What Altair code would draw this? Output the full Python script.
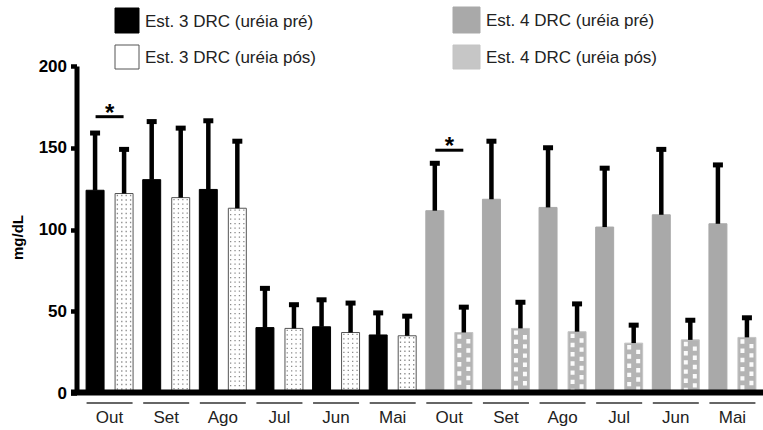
import altair as alt
import pandas as pd

# ---------------- data ----------------
months = ["Out", "Set", "Ago", "Jul", "Jun", "Mai"]
series = ["Est. 3 DRC (uréia pré)", "Est. 3 DRC (uréia pós)",
          "Est. 4 DRC (uréia pré)", "Est. 4 DRC (uréia pós)"]
est3_pre = [124, 130.5, 124.5, 40, 40.5, 35.5]
est3_pre_sd = [35, 35.5, 42, 24, 16.5, 13.5]
est3_pos = [122, 119.5, 113, 39.5, 37, 35]
est3_pos_sd = [27, 42.5, 41, 14.5, 18, 12]
est4_pre = [111.5, 118.5, 113.5, 101.5, 109, 103.5]
est4_pre_sd = [29, 35.5, 36.5, 36, 40, 36]
est4_pos = [37, 39.5, 37.5, 30.5, 32.5, 34]
est4_pos_sd = [15.5, 16, 17, 11, 12, 12]
sig_groups = ["3_Out", "4_Out"]
sig_levels = [169, 148.5]
y_ticks = [0, 50, 100, 150, 200]

# ---------------- tables ----------------
rows = []
for est, pre, pre_sd, pos, pos_sd, s_pre, s_pos in [
    (3, est3_pre, est3_pre_sd, est3_pos, est3_pos_sd, series[0], series[1]),
    (4, est4_pre, est4_pre_sd, est4_pos, est4_pos_sd, series[2], series[3]),
]:
    for i, m in enumerate(months):
        g = f"{est}_{m}"
        rows.append(dict(grp=g, tipo="pre", serie=s_pre, valor=pre[i], sd=pre_sd[i], top=pre[i] + pre_sd[i]))
        rows.append(dict(grp=g, tipo="pos", serie=s_pos, valor=pos[i], sd=pos_sd[i], top=pos[i] + pos_sd[i]))
df = pd.DataFrame(rows)
grp_order = [f"3_{m}" for m in months] + [f"4_{m}" for m in months]
groups_df = pd.DataFrame({"grp": grp_order})
sig_df = pd.DataFrame({"grp": sig_groups, "valor": sig_levels})

# ---------------- layout constants ----------------
W, H = 684, 327
PAD_L, PAD_T = 79, 66
n_groups = len(grp_order)
po_x = 0.04
step = W / (n_groups + 2 * po_x)
oi, oo = 0.38, 0.166
sstep = step / (2 - oi + 2 * oo)
ostart = (step - sstep * (2 - oi)) / 2
bw = sstep * (1 - oi)
pos_start = ostart + sstep

fills = ["#000000", "#ffffff", "#a9a9a9", "#b4b4b4"]
strokes = ["#000000", "#555555", "#a9a9a9", "#c4c4c4"]

X = alt.X("grp:N", sort=grp_order,
          scale=alt.Scale(domain=grp_order, paddingInner=0, paddingOuter=po_x, round=False),
          axis=alt.Axis(title=None, labelExpr="split(datum.label, '_')[1]", ticks=False, domain=False,
                        labelAngle=0, labelFontSize=17, labelFont="Liberation Sans", labelColor="#222222",
                        labelPadding=16, grid=False))
y_scale = alt.Scale(domain=[0, 200], nice=False)
y_axis = alt.Axis(title="mg/dL", values=y_ticks, grid=False, domainWidth=5, domainColor="black",
                  offset=2.5, tickSize=6, tickWidth=4.5, tickColor="black",
                  labelFontSize=17, labelFontWeight="bold", labelFont="Liberation Sans",
                  labelColor="black", labelPadding=4,
                  titleFontSize=15, titleFontWeight="bold", titleFont="Liberation Sans",
                  titleColor="black", titleAngle=-90, titleX=-59, titleY=171,
                  titleAlign="center", titleBaseline="middle")
Y = alt.Y("valor:Q", scale=y_scale, axis=y_axis, title="mg/dL")
XO = alt.XOffset("tipo:N", scale=alt.Scale(domain=["pre", "pos"], paddingInner=oi, paddingOuter=oo, round=False))

base = alt.Chart(df)

bars = base.mark_bar(strokeWidth=1).encode(
    x=X, xOffset=XO, y=Y, y2=alt.datum(0),
    color=alt.Color("serie:N", scale=alt.Scale(domain=series, range=fills), legend=None),
    stroke=alt.Stroke("serie:N", scale=alt.Scale(domain=series, range=strokes), legend=None),
)

# texture layers (dotted / cross-hatched bars), positioned inside the pós bars
XOQ = alt.XOffset("fx:Q", scale=alt.Scale(domain=[0, 1], nice=False, zero=False))
dot_cols = [2.3, 6.7, 11.1, 15.5]
dots_rows = []
for r in rows:
    if r["serie"] == series[1]:
        for c in dot_cols:
            dots_rows.append(dict(grp=r["grp"], valor=r["valor"] - 0.8, fx=(pos_start + c) / step))
dots = alt.Chart(pd.DataFrame(dots_rows)).mark_rule(
    strokeWidth=1.3, color="#8a8a8a", strokeDash=[1.3, 3.2]).encode(
    x=X, xOffset=XOQ, y=Y, y2=alt.datum(0))

hatch_layers = []
for c, dash_off in [(4.5, 0), (13.5, 4.6)]:
    hr = []
    for r in rows:
        if r["serie"] == series[3]:
            hr.append(dict(grp=r["grp"], valor=r["valor"] - 1.2, fx=(pos_start + c) / step))
    hatch_layers.append(alt.Chart(pd.DataFrame(hr)).mark_rule(
        strokeWidth=4, color="white", strokeDash=[4.4, 4.8], strokeDashOffset=dash_off, opacity=0.95).encode(
        x=X, xOffset=XOQ, y=Y, y2=alt.datum(0)))

err = base.mark_rule(strokeWidth=4.5, color="black").encode(
    x=X, xOffset=XO, y=Y, y2=alt.Y2("top:Q"))
caps = base.mark_tick(orient="horizontal", size=10, thickness=5, color="black", opacity=1).encode(
    x=X, xOffset=XO, y=alt.Y("top:Q", scale=y_scale, axis=y_axis, title="mg/dL"))

sig_line = alt.Chart(sig_df).mark_tick(orient="horizontal", size=28, thickness=3, color="black",
                                       opacity=1).encode(x=X, y=Y)
sig_star = alt.Chart(sig_df).mark_text(text="*", fontSize=24, fontWeight="bold", font="Liberation Sans",
                                       baseline="alphabetic", dy=4, color="black").encode(x=X, y=Y)

underline = alt.Chart(groups_df).mark_tick(orient="horizontal", size=46, thickness=1.5, color="#333333",
                                           opacity=1).encode(x=X, y=alt.value(337))

x_domain = alt.Chart(groups_df.head(1)).mark_rule(strokeWidth=6, color="black").encode(
    x=alt.value(-8), x2=alt.value(W), y=alt.value(H - 0.5))

# legend (drawn manually to show the textures)
leg_pos = [(36, -58, 60, -33), (36, -21, 60, 3), (374, -59, 401, -33), (374, -21, 401, 3)]
leg_layers = []
leg_df = pd.DataFrame({"serie": series})
for i, s in enumerate(series):
    x1, y1, x2, y2 = leg_pos[i]
    one = alt.Chart(leg_df.iloc[[i]])
    leg_layers.append(one.mark_rect(fill=fills[i] if i != 3 else "#c6c6c6",
                                    stroke=strokes[i], strokeWidth=1).encode(
        x=alt.value(x1), x2=alt.value(x2), y=alt.value(y1), y2=alt.value(y2)))
    leg_layers.append(one.mark_text(align="left", baseline="middle", fontSize=17, font="Liberation Sans",
                                    color="#222222").encode(
        x=alt.value(x2 + 6), y=alt.value((y1 + y2) / 2 + 1), text="serie:N"))

chart = alt.layer(
    bars, dots, *hatch_layers, err, caps, sig_line, sig_star, underline, x_domain, *leg_layers
).resolve_scale(xOffset="independent").properties(
    width=W, height=H,
    autosize=alt.AutoSizeParams(type="none"),
    padding={"left": PAD_L, "top": PAD_T, "right": 0, "bottom": 430 - PAD_T - H},
    background="white",
).configure_view(stroke=None)

chart.save("out.html", embed_options={"renderer": "svg", "actions": False})
